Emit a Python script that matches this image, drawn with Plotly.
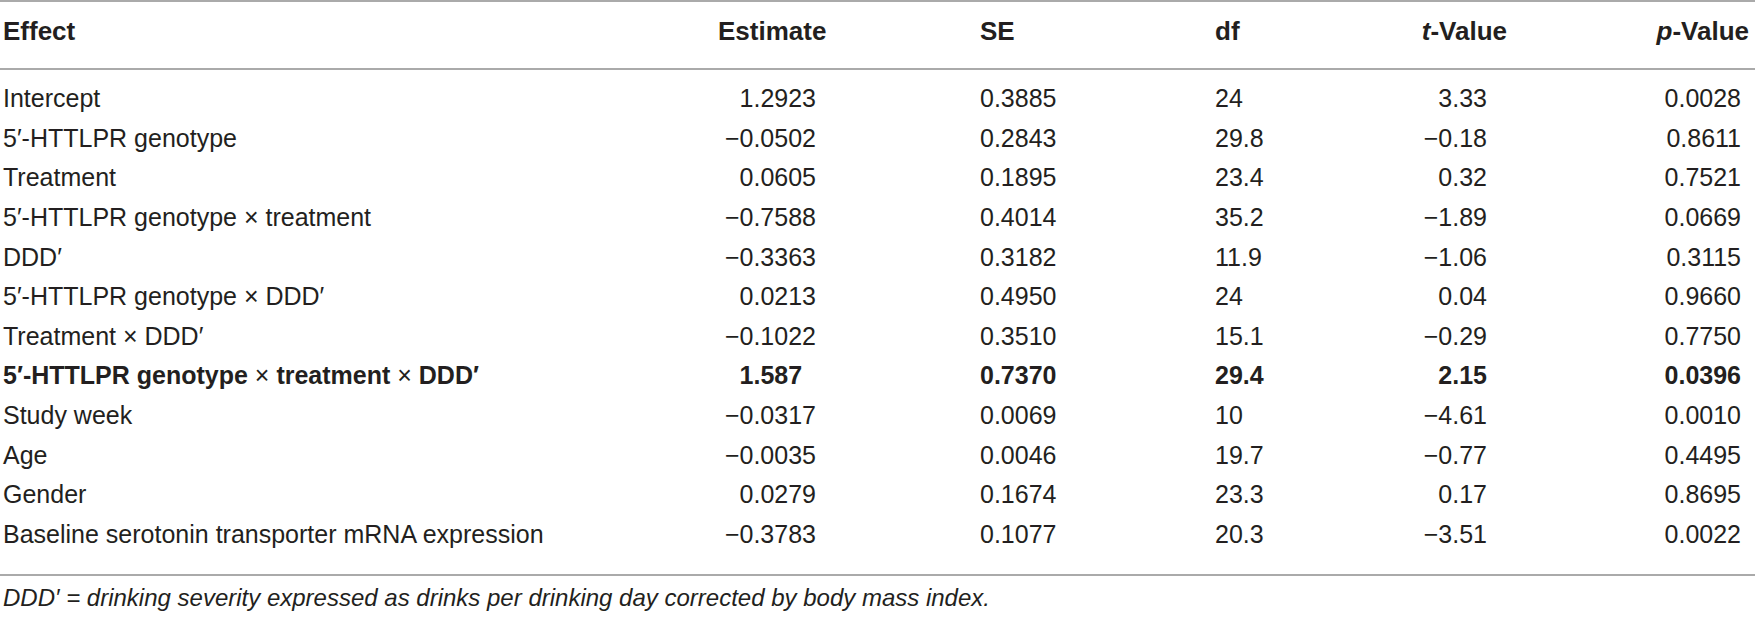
import plotly.graph_objects as go

# table content
effects = [
    "Intercept",
    "5′-HTTLPR genotype",
    "Treatment",
    "5′-HTTLPR genotype × treatment",
    "DDD′",
    "5′-HTTLPR genotype × DDD′",
    "Treatment × DDD′",
    "5′-HTTLPR genotype × treatment × DDD′",
    "Study week",
    "Age",
    "Gender",
    "Baseline serotonin transporter mRNA expression",
]
estimates = ["1.2923", "−0.0502", "0.0605", "−0.7588", "−0.3363", "0.0213",
             "−0.1022", "1.587", "−0.0317", "−0.0035", "0.0279", "−0.3783"]
se_values = ["0.3885", "0.2843", "0.1895", "0.4014", "0.3182", "0.4950",
             "0.3510", "0.7370", "0.0069", "0.0046", "0.1674", "0.1077"]
df_values = ["24", "29.8", "23.4", "35.2", "11.9", "24",
             "15.1", "29.4", "10", "19.7", "23.3", "20.3"]
t_values = ["3.33", "−0.18", "0.32", "−1.89", "−1.06", "0.04",
            "−0.29", "2.15", "−4.61", "−0.77", "0.17", "−3.51"]
p_values = ["0.0028", "0.8611", "0.7521", "0.0669", "0.3115", "0.9660",
            "0.7750", "0.0396", "0.0010", "0.4495", "0.8695", "0.0022"]
headers = ["Effect", "Estimate", "SE", "df", "<i>t</i>-Value", "<i>p</i>-Value"]
bold_row = 7
footnote = "DDD′ = drinking severity expressed as drinks per drinking day corrected by body mass index."

W, H = 1755, 622
FONT = "Liberation Sans, Arial, Helvetica, sans-serif"
INK = "#231f20"
RULE = "#aaaaaa"
SIZE = 25

first_row, row_step = 101, 39.6
header_y = 33
rows_y = [first_row + i * row_step for i in range(len(effects))]


def pad_decimals(vals):
    # decimal alignment: pad shorter fractions with figure spaces
    n = max(len(v.split(".")[1]) if "." in v else 0 for v in vals)
    out = []
    for v in vals:
        k = len(v.split(".")[1]) if "." in v else 0
        out.append(v + "\u2007" * (n - k))
    return out


def boldify(vals):
    return ["<b>%s</b>" % v if i == bold_row else v for i, v in enumerate(vals)]


effect_text = list(effects)
effect_text[bold_row] = " × ".join("<b>%s</b>" % p for p in effects[bold_row].split(" × "))

# (text, x anchor, textposition)
columns = [
    (effect_text, 3, "middle right"),
    (boldify(pad_decimals(estimates)), 816, "middle left"),
    (boldify(se_values), 980, "middle right"),
    (boldify(df_values), 1215, "middle right"),
    (boldify(t_values), 1487, "middle left"),
    (boldify(p_values), 1741, "middle left"),
]
header_anchor = [(3, "middle right"), (718, "middle right"), (980, "middle right"),
                 (1215, "middle right"), (1507, "middle left"), (1749, "middle left")]

fig = go.Figure()

for text, x0, pos in columns:
    fig.add_trace(go.Scatter(
        x=[x0] * len(text), y=rows_y, mode="text", text=text,
        textposition=pos, textfont=dict(family=FONT, size=SIZE, color=INK),
        hoverinfo="skip", showlegend=False, cliponaxis=False,
    ))

for h, (x0, pos) in zip(headers, header_anchor):
    fig.add_trace(go.Scatter(
        x=[x0], y=[header_y], mode="text", text=["<b>%s</b>" % h],
        textposition=pos, textfont=dict(family=FONT, size=26, color=INK),
        hoverinfo="skip", showlegend=False, cliponaxis=False,
    ))

fig.add_trace(go.Scatter(
    x=[3], y=[600], mode="text", text=["<i>%s</i>" % footnote],
    textposition="middle right", textfont=dict(family=FONT, size=24, color=INK),
    hoverinfo="skip", showlegend=False, cliponaxis=False,
))

for y0 in [1, 69, 575]:
    fig.add_shape(type="line", x0=0, x1=W, y0=y0, y1=y0,
                  line=dict(color=RULE, width=2))

fig.update_layout(
    width=W, height=H,
    margin=dict(l=0, r=0, t=0, b=0),
    paper_bgcolor="white", plot_bgcolor="white",
    xaxis=dict(range=[0, W], visible=False, fixedrange=True),
    yaxis=dict(range=[H, 0], visible=False, fixedrange=True),
)

# drop the default body margin so the figure fills the window exactly
fig.write_html("out.html",
               config={"displayModeBar": False},
               post_script="document.body.style.margin='0px';"
                           "document.body.style.overflow='hidden';")
